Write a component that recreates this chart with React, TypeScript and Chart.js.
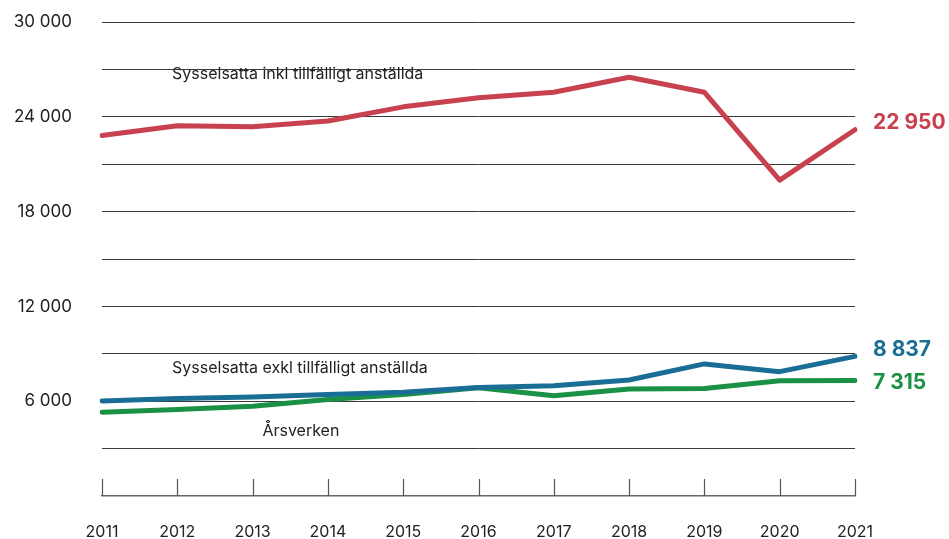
import React, { useEffect, useRef } from "react";
import { Chart, registerables } from "chart.js";

Chart.register(...registerables);

const years = ["2011", "2012", "2013", "2014", "2015", "2016", "2017", "2018", "2019", "2020", "2021"];
const inkl = [22820, 23430, 23370, 23730, 24630, 25200, 25550, 26500, 25550, 19990, 23180];
const exkl = [6020, 6170, 6270, 6420, 6570, 6860, 6980, 7340, 8360, 7870, 8837];
const arsverken = [5300, 5470, 5680, 6110, 6420, 6850, 6340, 6770, 6800, 7300, 7315];
const endLabels = ["22 950", "8 837", "7 315"];
const seriesNames = [
  "Sysselsatta inkl tillfälligt anställda",
  "Sysselsatta exkl tillfälligt anställda",
  "Årsverken",
];
const colors = ["#c8414f", "#1a6e96", "#1a9145"];

const FONT = "Inter, 'Noto Sans', sans-serif";

const fmt = (v: number) => String(v).replace(/\B(?=(\d{3})+(?!\d))/g, " ");

const annotations = {
  id: "annotations",
  afterDatasetsDraw(chart: any) {
    const { ctx, scales } = chart;
    const x = scales.x;
    const y = scales.y;
    ctx.save();
    ctx.strokeStyle = "#555";
    ctx.lineWidth = 1.2;
    const bottom = chart.chartArea.bottom;
    years.forEach((_, i) => {
      const px = Math.round(x.getPixelForValue(i)) + 0.5;
      ctx.beginPath();
      ctx.moveTo(px, bottom);
      ctx.lineTo(px, bottom - 17);
      ctx.stroke();
    });
    ctx.fillStyle = "#222";
    ctx.font = `16px ${FONT}`;
    ctx.textAlign = "left";
    ctx.textBaseline = "middle";
    const namePos = [
      { i: 0.93, v: 26700 },
      { i: 0.93, v: 8110 },
      { i: 2.13, v: 4120 },
    ];
    seriesNames.forEach((n, k) => {
      const p = namePos[k];
      const px = x.getPixelForValue(0) + p.i * (x.getPixelForValue(1) - x.getPixelForValue(0));
      ctx.fillText(n, px, y.getPixelForValue(p.v));
    });
    const data = [inkl, exkl, arsverken];
    const dys = [-7, -7, 2];
    ctx.font = `bold 21px ${FONT}`;
    endLabels.forEach((t, k) => {
      const last = data[k].length - 1;
      ctx.fillStyle = colors[k];
      ctx.fillText(t, x.getPixelForValue(last) + 18, y.getPixelForValue(data[k][last]) + dys[k]);
    });
    ctx.restore();
  },
};

export default function App() {
  const ref = useRef<HTMLCanvasElement>(null);
  useEffect(() => {
    if (!ref.current) return;
    const chart = new Chart(ref.current, {
      type: "line",
      data: {
        labels: years,
        datasets: [inkl, exkl, arsverken].map((d, k) => ({
          label: seriesNames[k],
          data: d,
          borderColor: colors[k],
          backgroundColor: colors[k],
          borderWidth: 5,
          pointRadius: 0,
          tension: 0,
          borderCapStyle: "round" as const,
          borderJoinStyle: "round" as const,
        })),
      },
      options: {
        animation: false,
        responsive: true,
        maintainAspectRatio: false,
        layout: { padding: { left: 0, right: 94, top: 22, bottom: 0 } },
        plugins: { legend: { display: false }, tooltip: { enabled: false } },
        scales: {
          x: {
            offset: false,
            grid: { display: false, drawTicks: false },
            border: { display: true, color: "#6a6a6a", width: 1.5 },
            ticks: {
              color: "#222",
              font: { family: FONT, size: 16 },
              padding: 27,
              maxRotation: 0,
            },
            afterFit: (s: any) => {
              s.height = 43;
            },
          },
          y: {
            min: 0,
            max: 30000,
            grid: {
              drawTicks: false,
              color: (c: any) => (c.tick && c.tick.value === 0 ? "rgba(0,0,0,0)" : "#3a3a3a"),
              lineWidth: 1,
            },
            border: { display: false },
            ticks: {
              stepSize: 3000,
              color: "#222",
              font: { family: FONT, size: 17 },
              padding: 30,
              callback: (v: any) => (v !== 0 && v % 6000 === 0 ? fmt(v) : ""),
            },
            afterFit: (s: any) => {
              s.width = 102;
              s.paddingTop = 0;
              s.paddingBottom = 0;
            },
          },
        },
      },
      plugins: [annotations],
    });
    return () => chart.destroy();
  }, []);
  return (
    <div style={{ position: "fixed", left: 0, top: 0, width: 949, height: 539, background: "#fff" }}>
      <canvas ref={ref} />
    </div>
  );
}
